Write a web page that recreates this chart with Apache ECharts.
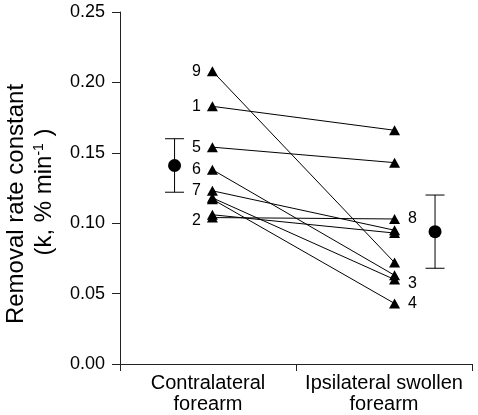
<!DOCTYPE html>
<html>
<head>
<meta charset="utf-8">
<script src="https://cdn.jsdelivr.net/npm/echarts@6/dist/echarts.min.js"></script>
<style>html,body{margin:0;padding:0;background:#fff}#c{width:478px;height:415px}</style>
</head>
<body>
<div id="c"></div>
<script>
// ---- data ----
const categories = ['Contralateral\nforearm', 'Ipsilateral swollen\nforearm'];
const subjects = ['1', '2', '3', '4', '5', '6', '7', '8', '9'];
const contralateral = [0.183, 0.106, 0.118, 0.117, 0.154, 0.138, 0.123, 0.104, 0.208];
const ipsilateral   = [0.166, 0.093, 0.060, 0.043, 0.143, 0.063, 0.095, 0.103, 0.072];
const labelSide = ['left', 'left', 'right', 'right', 'left', 'left', 'left', 'right', 'left'];
const meanValues = [0.141, 0.094];
const semValues = [0.019, 0.026];
const yTicks = [0, 0.05, 0.10, 0.15, 0.20, 0.25];
const yTitle = ['Removal rate constant', '(k, % min{sup|-1} )'];

// ---- layout (positions along the hidden value x axis spanning the 2 categories) ----
const pairX = [0.525, 1.56];
const meanX = [0.31, 1.79];
const FONT = 'Liberation Sans, Arial, Helvetica, sans-serif';

const series = [];
subjects.forEach((s, i) => {
  const side = labelSide[i];
  const pts = [
    { value: [pairX[0], contralateral[i]] },
    { value: [pairX[1], ipsilateral[i]] }
  ];
  const idx = side === 'left' ? 0 : 1;
  pts[idx].label = {
    show: true, formatter: s, position: side, distance: side === 'left' ? 6 : 8,
    color: '#000', fontSize: 16, fontFamily: FONT,
    offset: s === '2' ? [0, 6] : (s === '3' ? [0, 4] : [0, 0])
  };
  series.push({
    type: 'line', xAxisIndex: 1, data: pts,
    symbol: 'triangle', symbolSize: [11, 10],
    itemStyle: { color: '#000', opacity: 1 },
    lineStyle: { color: '#000', width: 1 },
    label: { show: false },
    emphasis: { disabled: true },
    z: 3
  });
});

series.push({
  type: 'custom', xAxisIndex: 1,
  data: meanValues.map((m, i) => [meanX[i], m, semValues[i]]),
  renderItem: function (params, api) {
    const x = api.value(0), m = api.value(1), e = api.value(2);
    const t = api.coord([x, m + e]), b = api.coord([x, m - e]);
    const w = 9.5;
    const st = { stroke: '#000', lineWidth: 1 };
    return { type: 'group', children: [
      { type: 'line', shape: { x1: t[0], y1: t[1], x2: b[0], y2: b[1] }, style: st },
      { type: 'line', shape: { x1: t[0] - w, y1: t[1], x2: t[0] + w, y2: t[1] }, style: st },
      { type: 'line', shape: { x1: b[0] - w, y1: b[1], x2: b[0] + w, y2: b[1] }, style: st }
    ]};
  },
  z: 2
});
series.push({
  type: 'scatter', xAxisIndex: 1,
  data: meanValues.map((m, i) => [meanX[i], m]),
  symbol: 'circle', symbolSize: 13,
  itemStyle: { color: '#000', opacity: 1 },
  emphasis: { disabled: true },
  z: 4
});

const chart = echarts.init(document.getElementById('c'), null, { renderer: 'canvas' });
chart.setOption({
  animation: false,
  backgroundColor: '#fff',
  grid: { left: 120, right: 6, top: 12, bottom: 51, containLabel: false },
  graphic: [
    { type: 'text', x: 16, y: 204, rotation: Math.PI / 2,
      style: { text: yTitle[0], fill: '#000', font: '24px ' + FONT, align: 'center', verticalAlign: 'middle' } },
    { type: 'text', x: 44, y: 192, rotation: Math.PI / 2,
      style: { text: yTitle[1], fill: '#000', fontSize: 24, fontFamily: FONT, align: 'center', verticalAlign: 'middle',
        rich: { sup: { fontSize: 14, fontFamily: FONT, fill: '#000', verticalAlign: 'top', padding: [0, 0, 10, 0] } } } }
  ],
  xAxis: [
    {
      type: 'category', data: categories, boundaryGap: true,
      axisLine: { lineStyle: { color: '#222', width: 1 } },
      axisTick: { show: true, inside: false, length: 7, interval: 0, lineStyle: { color: '#222' } },
      axisLabel: { color: '#000', fontSize: 20, fontFamily: FONT, lineHeight: 21, margin: 9, interval: 0 },
      splitLine: { show: false }
    },
    { type: 'value', min: 0, max: 2, show: false }
  ],
  yAxis: {
    type: 'value', min: yTicks[0], max: yTicks[yTicks.length - 1], interval: 0.05,
    axisLine: { show: true, lineStyle: { color: '#222', width: 1 } },
    axisTick: { show: true, inside: false, length: 8, lineStyle: { color: '#222' } },
    axisLabel: { color: '#000', fontSize: 18, fontFamily: FONT, margin: 15, formatter: v => v.toFixed(2) },
    splitLine: { show: false }
  },
  series: series
});
</script>
</body>
</html>
